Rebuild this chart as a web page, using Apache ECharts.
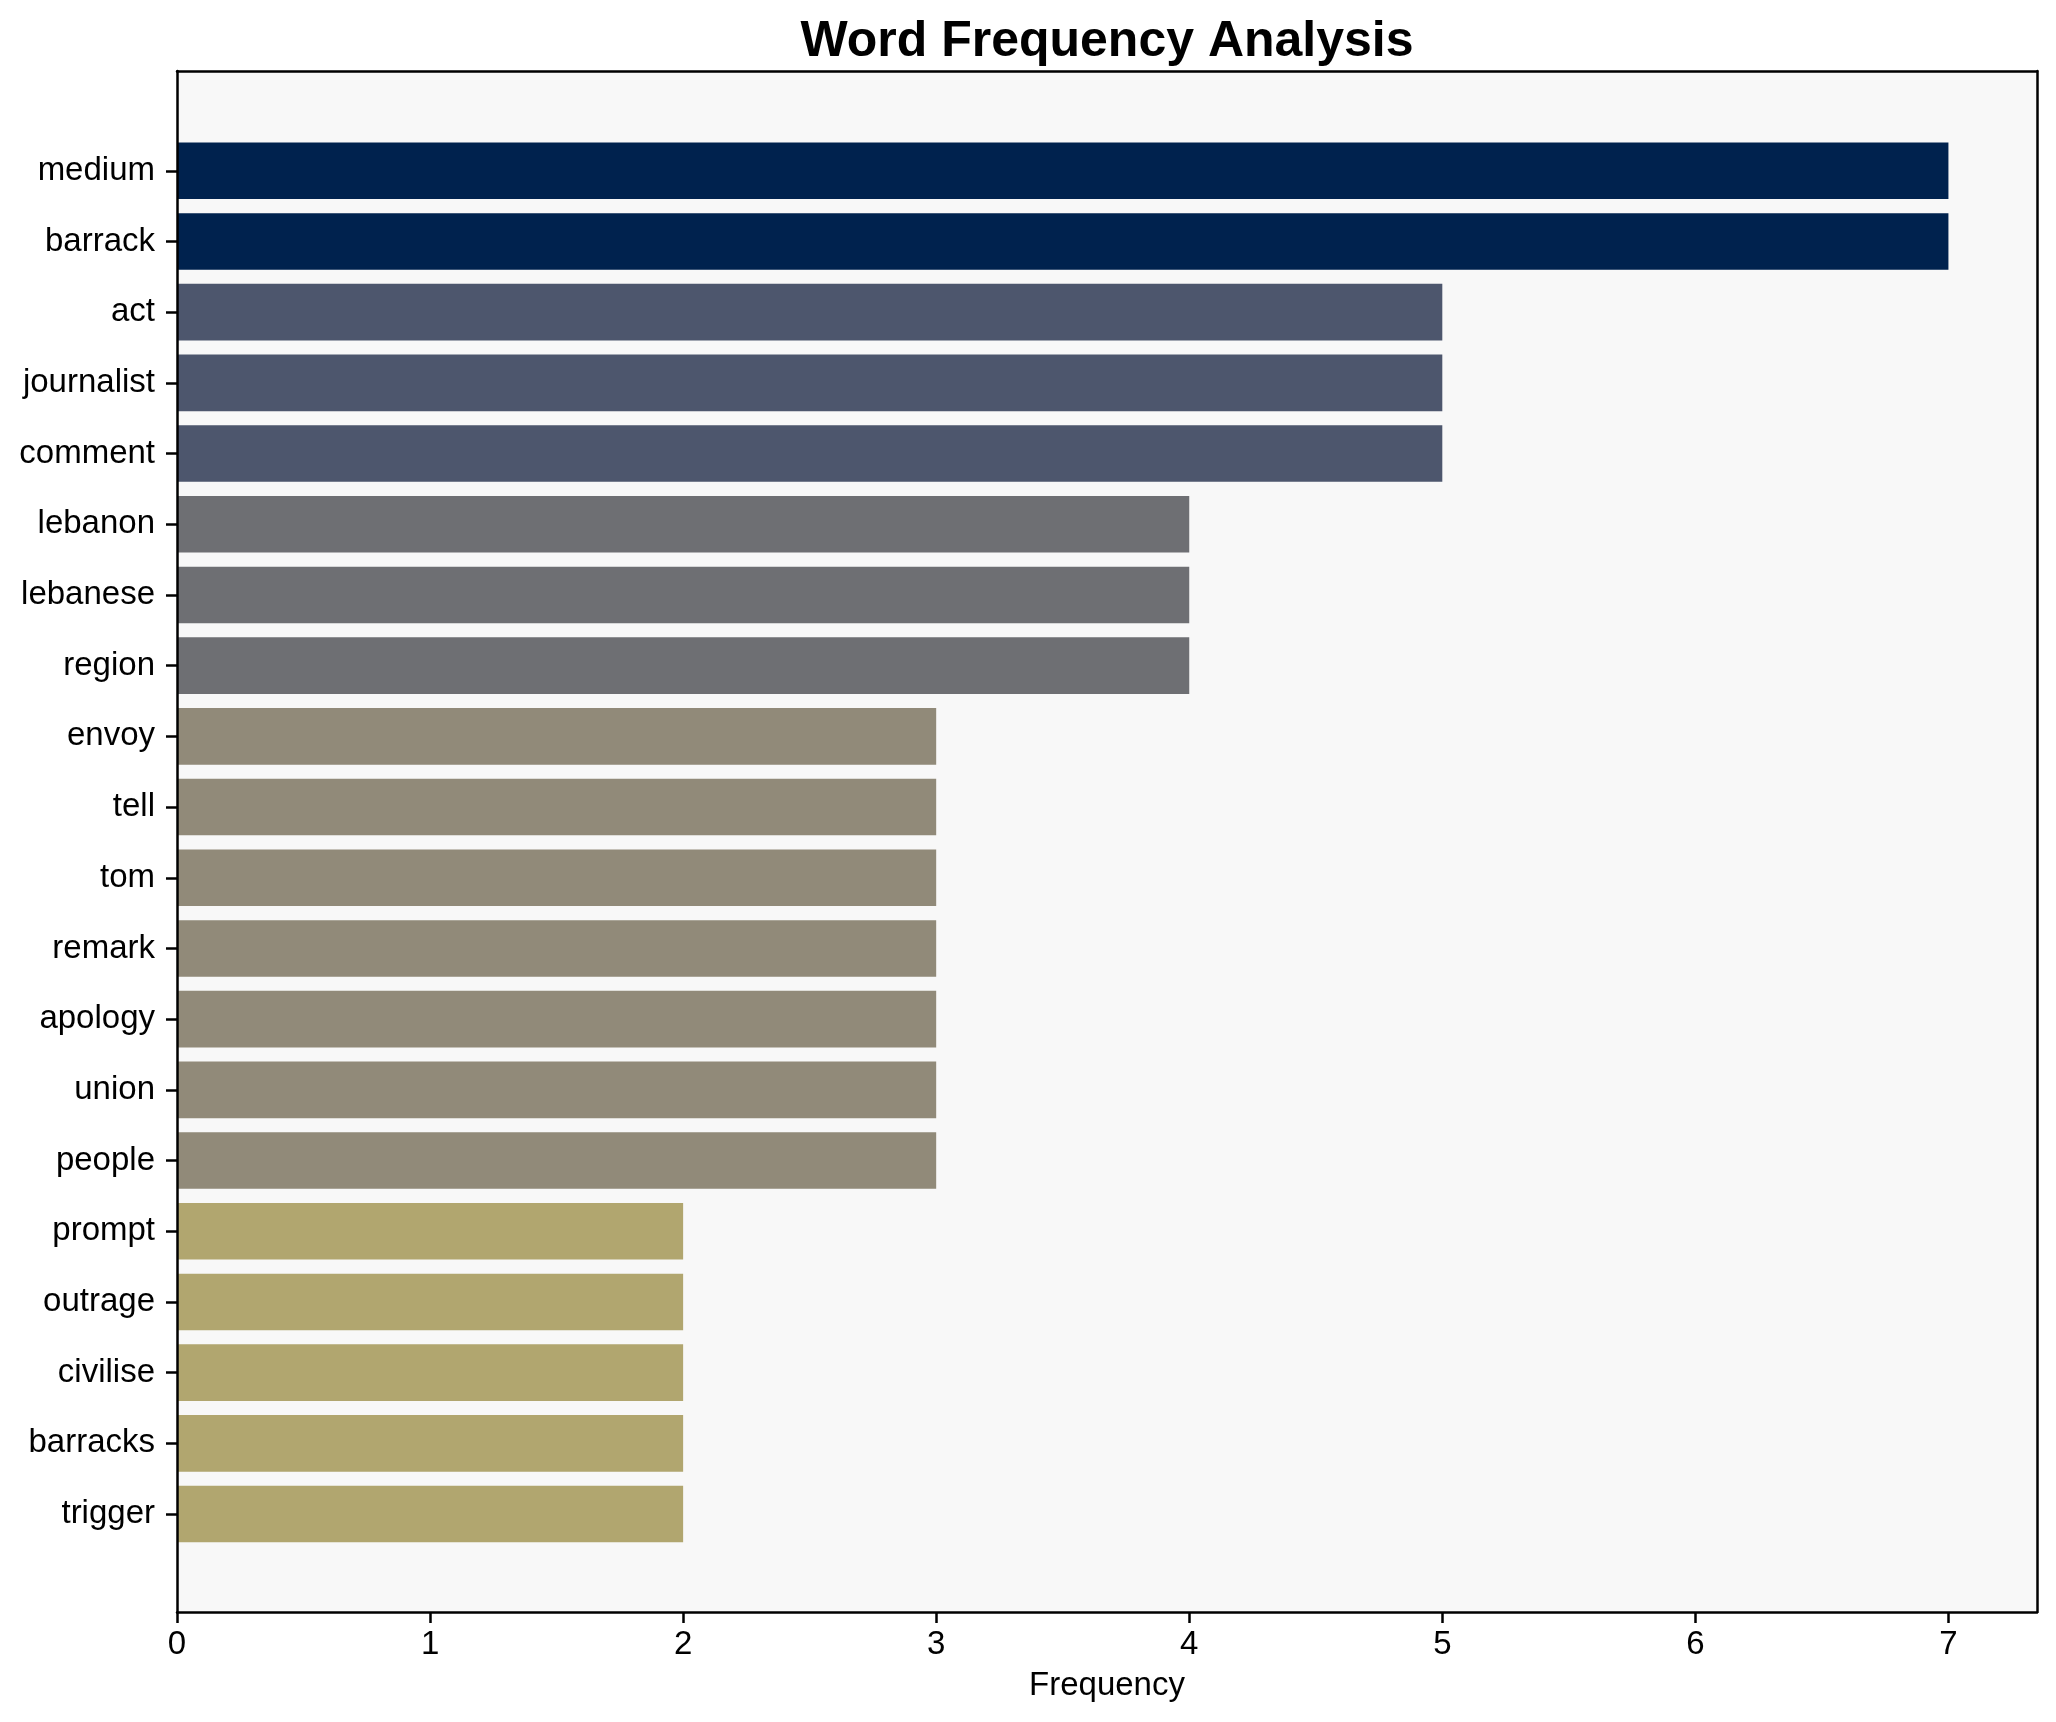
<!DOCTYPE html>
<html>
<head>
<meta charset="utf-8">
<script src="https://cdn.jsdelivr.net/npm/echarts@6/dist/echarts.min.js"></script>
<style>
html,body{margin:0;padding:0;background:#ffffff;}
#chart{width:2056px;height:1722px;}
</style>
</head>
<body>
<div id="chart"></div>
<script>
const words = ["medium","barrack","act","journalist","comment","lebanon","lebanese","region","envoy","tell","tom","remark","apology","union","people","prompt","outrage","civilise","barracks","trigger"];
const frequencies = [7,7,5,5,5,4,4,4,3,3,3,3,3,3,3,2,2,2,2,2];
const xTicks = [0,1,2,3,4,5,6,7];
const colorByValue = {7:"#00224e",5:"#4d566d",4:"#6e6f73",3:"#918a79",2:"#b1a66f"};

const FONT = "Liberation Sans, Arial, Helvetica, sans-serif";
const chart = echarts.init(document.getElementById('chart'), null, {renderer:'canvas'});

const L = 177, R = 19, T = 71, B = 110;
const XMAX = 7.35;
const frameLine = {show: true, onZero: false, lineStyle: {color: '#000', width: 2.5}};

const option = {
  backgroundColor: '#ffffff',
  animation: false,
  title: {
    text: 'Word Frequency Analysis',
    left: 1107, top: 17, textAlign: 'center', padding: 0,
    textStyle: {fontFamily: FONT, fontSize: 50, fontWeight: 'bold', color: '#000'}
  },
  grid: [
    {left: L, right: R, top: T, bottom: B, show: true, backgroundColor: '#f8f8f8', borderWidth: 0},
    {left: L, right: R, top: 135.4, bottom: 172.6}
  ],
  xAxis: [
    {gridIndex: 0, type: 'value', min: 0, max: XMAX, position: 'bottom', z: 5,
     splitLine: {show: false},
     axisLine: frameLine,
     axisTick: {show: true, length: 11, lineStyle: {color: '#000', width: 2.5}, customValues: xTicks},
     axisLabel: {show: true, fontFamily: FONT, fontSize: 33, color: '#000', margin: 16, customValues: xTicks},
     name: 'Frequency', nameLocation: 'middle', nameGap: 57,
     nameTextStyle: {fontFamily: FONT, fontSize: 33, color: '#000'}},
    {gridIndex: 0, type: 'value', min: 0, max: XMAX, position: 'top', z: 5,
     splitLine: {show: false}, axisTick: {show: false}, axisLabel: {show: false},
     axisLine: frameLine},
    {gridIndex: 1, type: 'value', min: 0, max: XMAX, show: false, splitLine: {show: false}}
  ],
  yAxis: [
    {gridIndex: 0, type: 'value', min: 0, max: 1, position: 'left', z: 5,
     splitLine: {show: false}, axisTick: {show: false}, axisLabel: {show: false},
     axisLine: frameLine},
    {gridIndex: 0, type: 'value', min: 0, max: 1, position: 'right', z: 5,
     splitLine: {show: false}, axisTick: {show: false}, axisLabel: {show: false},
     axisLine: frameLine},
    {gridIndex: 1, type: 'category', data: words, inverse: true,
     axisLine: {show: false},
     axisTick: {show: true, alignWithLabel: true, length: 11, lineStyle: {color: '#000', width: 2.5}},
     axisLabel: {fontFamily: FONT, fontSize: 33, color: '#000', margin: 22, padding: [4, 0, 0, 0]},
     splitLine: {show: false}}
  ],
  series: [{
    type: 'bar',
    xAxisIndex: 2, yAxisIndex: 2,
    barCategoryGap: '20%',
    data: frequencies.map(v => ({value: v, itemStyle: {color: colorByValue[v]}})),
    z: 2
  }]
};
chart.setOption(option);
</script>
</body>
</html>
